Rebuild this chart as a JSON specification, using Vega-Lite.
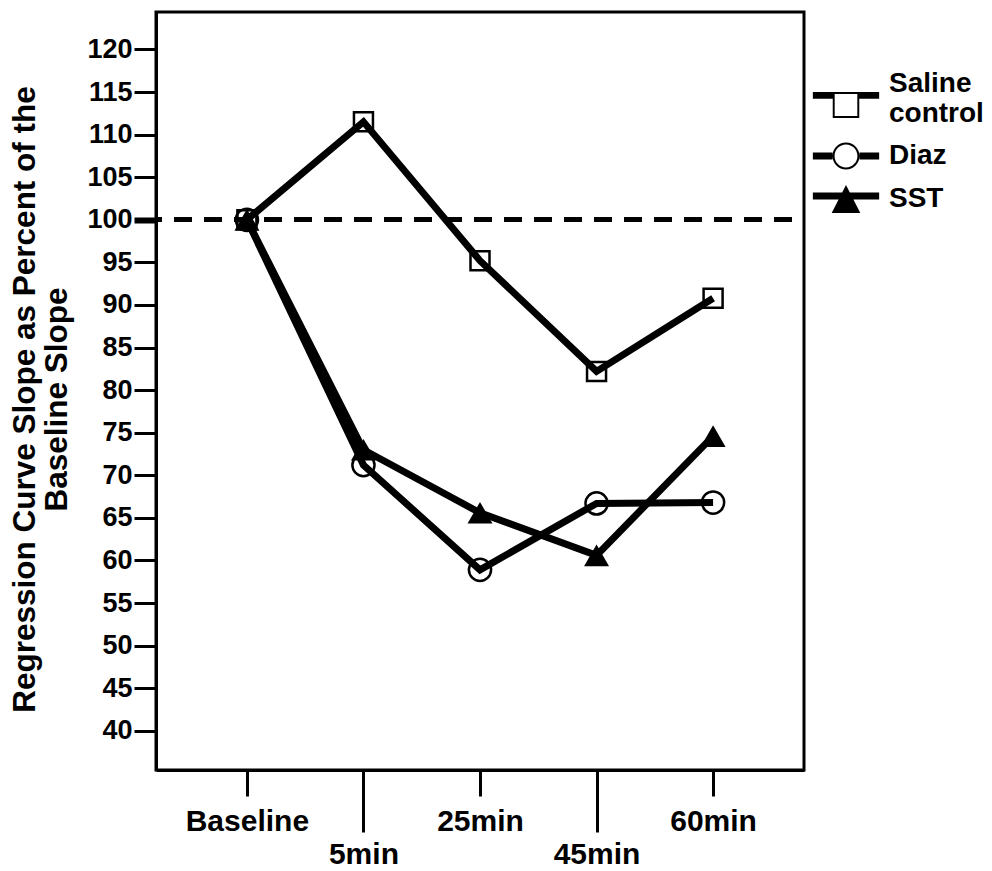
{
  "$schema": "https://vega.github.io/schema/vega-lite/v6.json",
  "autosize": {"type": "none"},
  "padding": {"left": 156, "top": 12, "right": 188, "bottom": 101},
  "width": 648,
  "height": 758,
  "background": "white",
  "config": {
    "view": {"stroke": "black", "strokeWidth": 3},
    "font": "Liberation Sans"
  },
  "data": {
    "values": [
      {"group": "Saline control", "time": "Baseline", "value": 100},
      {"group": "Saline control", "time": "5min", "value": 111.5},
      {"group": "Saline control", "time": "25min", "value": 95.2},
      {"group": "Saline control", "time": "45min", "value": 82.2},
      {"group": "Saline control", "time": "60min", "value": 90.8},
      {"group": "Diaz", "time": "Baseline", "value": 100},
      {"group": "Diaz", "time": "5min", "value": 71.2},
      {"group": "Diaz", "time": "25min", "value": 58.9},
      {"group": "Diaz", "time": "45min", "value": 66.7},
      {"group": "Diaz", "time": "60min", "value": 66.8},
      {"group": "SST", "time": "Baseline", "value": 100},
      {"group": "SST", "time": "5min", "value": 73.0},
      {"group": "SST", "time": "25min", "value": 65.6},
      {"group": "SST", "time": "45min", "value": 60.6},
      {"group": "SST", "time": "60min", "value": 74.6}
    ]
  },
  "encoding": {
    "x": {
      "field": "time",
      "type": "ordinal",
      "scale": {"type": "point", "domain": ["Baseline", "5min", "25min", "45min", "60min"], "padding": 0.78},
      "axis": {
        "title": null,
        "labelAngle": 0,
        "grid": false,
        "domainWidth": 3,
        "domainColor": "black",
        "tickColor": "black",
        "tickWidth": 3,
        "tickSize": {"condition": {"test": "datum.value == '5min' || datum.value == '45min'", "value": 62}, "value": 26},
        "labelPadding": {"condition": {"test": "datum.value == '5min' || datum.value == '45min'", "value": 7}, "value": 10},
        "labelFont": "Liberation Sans",
        "labelFontSize": 30,
        "labelFontWeight": "bold",
        "labelColor": "black"
      }
    },
    "y": {
      "field": "value",
      "type": "quantitative",
      "scale": {"domain": [35.4, 124.4], "nice": false, "zero": false},
      "axis": {
        "values": [40, 45, 50, 55, 60, 65, 70, 75, 80, 85, 90, 95, 100, 105, 110, 115, 120],
        "grid": false,
        "domainWidth": 3,
        "domainColor": "black",
        "tickColor": "black",
        "tickSize": 22,
        "tickWidth": {"condition": {"test": "datum.value == 100", "value": 6}, "value": 3},
        "labelPadding": 2,
        "labelFont": "Liberation Sans",
        "labelFontSize": 27,
        "labelFontWeight": "bold",
        "labelColor": "black",
        "title": ["Regression Curve Slope as Percent of the", "Baseline Slope"],
        "titleFont": "Liberation Sans",
        "titleFontSize": 31.5,
        "titleFontWeight": "bold",
        "titleColor": "black",
        "titleAngle": -90,
        "titleBaseline": "alphabetic",
        "titleAlign": "center",
        "titleLineHeight": 32,
        "titleX": -121.5,
        "titleY": 387
      }
    }
  },
  "layer": [
    {
      "mark": {"type": "rule", "color": "black", "strokeWidth": 4, "strokeDash": [18, 12], "strokeDashOffset": 18},
      "encoding": {"x": null, "y": {"datum": 100, "type": "quantitative"}}
    },
    {
      "mark": {"type": "line", "color": "black", "strokeWidth": 7},
      "encoding": {"detail": {"field": "group", "type": "nominal"}}
    },
    {
      "transform": [{"filter": "datum.group != 'SST'"}],
      "mark": {"type": "point", "filled": false, "color": "black", "strokeWidth": 2.5, "opacity": 1},
      "encoding": {
        "shape": {"field": "group", "type": "nominal", "scale": {"domain": ["Saline control", "Diaz"], "range": ["square", "circle"]}, "legend": null},
        "size": {"field": "group", "type": "nominal", "scale": {"domain": ["Saline control", "Diaz"], "range": [361, 491]}, "legend": null}
      }
    },
    {
      "transform": [{"filter": "datum.group == 'SST'"}],
      "mark": {"type": "point", "shape": "triangle-up", "filled": true, "color": "black", "size": 625, "opacity": 1}
    },
    {
      "transform": [{"filter": "false"}],
      "mark": {"type": "point", "filled": true, "color": "black", "size": 676, "opacity": 1, "strokeWidth": 0},
      "encoding": {
        "shape": {
          "field": "group",
          "type": "nominal",
          "scale": {
            "domain": ["Saline control", "Diaz", "SST"],
            "range": [
              "M-2.55,0.62H-1.02V1.14H-2.55Z M1.02,0.62H2.55V1.14H1.02Z M-1.02,0.62H1.02V2.62H-1.02Z M-0.87,0.77V2.47H0.87V0.77Z",
              "M-2.55,-0.27H-1.04V0.27H-2.55Z M1.04,-0.27H2.55V0.27H1.04Z M-1.04,0A1.04,1.04 0 1,1 1.04,0A1.04,1.04 0 1,1 -1.04,0Z M-0.88,0A0.88,0.88 0 1,0 0.88,0A0.88,0.88 0 1,0 -0.88,0Z",
              "M-2.55,-0.5H2.55V0.04H-2.55Z M0,-1.08L1.1,1.08H-1.1Z"
            ]
          },
          "legend": {
            "orient": "none",
            "legendX": 676,
            "legendY": 58,
            "title": null,
            "padding": 0,
            "symbolSize": 676,
            "symbolFillColor": "black",
            "symbolStrokeWidth": 0,
            "labelFont": "Liberation Sans",
            "labelFontSize": 28,
            "labelFontWeight": "bold",
            "labelColor": "black",
            "labelOffset": 29,
            "labelLimit": 0,
            "rowPadding": 14,
            "labelExpr": "datum.label == 'Saline control' ? ['Saline', 'control'] : datum.label"
          }
        }
      }
    }
  ],
  "resolve": {"scale": {"shape": "independent", "size": "independent"}}
}
